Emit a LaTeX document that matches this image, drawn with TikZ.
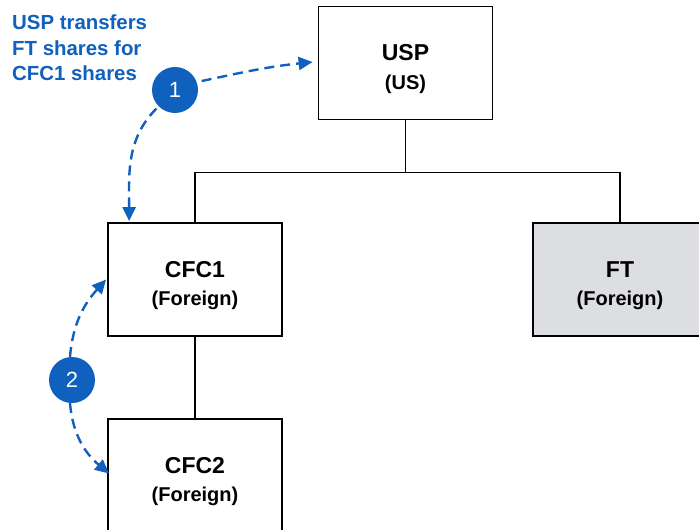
\documentclass[tikz,border=0pt]{standalone}
\usepackage{fontspec}
\setmainfont{Liberation Sans}
\usetikzlibrary{arrows.meta,calc}
\definecolor{stepblue}{RGB}{16,96,190}
\definecolor{ftgray}{RGB}{221,222,226}
\tikzset{
  entity/.style={draw=black, line width=1.8pt, minimum width=174pt, minimum height=113pt,
    inner sep=0pt, align=center, text=black, font=\bfseries\fontsize{20}{28.5}\selectfont},
  link/.style={draw=black, line width=1.8pt},
  stepnum/.style={circle, fill=stepblue, minimum size=46pt, inner sep=0pt, text=white,
    font=\fontsize{22}{26}\selectfont},
  flow/.style={draw=stepblue, line width=2.4pt, dash pattern=on 10pt off 6pt,
    -{Triangle[length=14pt,width=13pt]}},
  note/.style={text=stepblue, font=\bfseries\fontsize{20.4}{25.5}\selectfont, align=left,
    inner sep=0pt}
}
% two-line entity label; the strut lowers the block slightly inside the box
\newcommand{\entname}[2]{\rule{0pt}{28pt}{\fontsize{23}{28.5}\selectfont #1}\\#2}
\begin{document}
\begin{tikzpicture}[x=1pt,y=-1pt]
  \clip (0,0) rectangle (699,530);
  \useasboundingbox (0,0) rectangle (699,530);

  % ownership boxes
  \node[entity] (usp) at (405.5,63) {\entname{USP}{(US)}};
  \node[entity] (cfc1) at (195,279.5) {\entname{CFC1}{(Foreign)}};
  \node[entity, fill=ftgray] (ft) at (620,279.5) {\entname{FT}{(Foreign)}};
  \node[entity] (cfc2) at (195,475.5) {\entname{CFC2}{(Foreign)}};

  % ownership lines
  \coordinate (bus) at ($(usp.south)+(0,52)$);
  \draw[link] (usp.south) -- (bus) -| (cfc1.north);
  \draw[link] (bus) -| (ft.north);
  \draw[link] (cfc1.south) -- (cfc2.north);

  % transaction steps
  \node[note, anchor=north west] (desc) at (12,15) {USP transfers\\FT shares for\\CFC1 shares};
  \node[stepnum] (s1) at (175,90) {1};
  \node[stepnum] (s2) at (72,380) {2};

  \draw[flow, shorten <=5pt] (s1.20) to[out=12,in=186] ([xshift=-5pt,yshift=1pt]usp.west);
  \draw[flow, shorten <=3pt] (s1.225) to[out=225,in=90] ([xshift=22pt,yshift=1pt]cfc1.north west);
  \draw[flow] (s2.95) to[out=85,in=228] ([xshift=-1pt]cfc1.west);
  \draw[flow] (s2.265) to[out=-85,in=140] ([xshift=2pt,yshift=2pt]cfc2.west);
\end{tikzpicture}
\end{document}
